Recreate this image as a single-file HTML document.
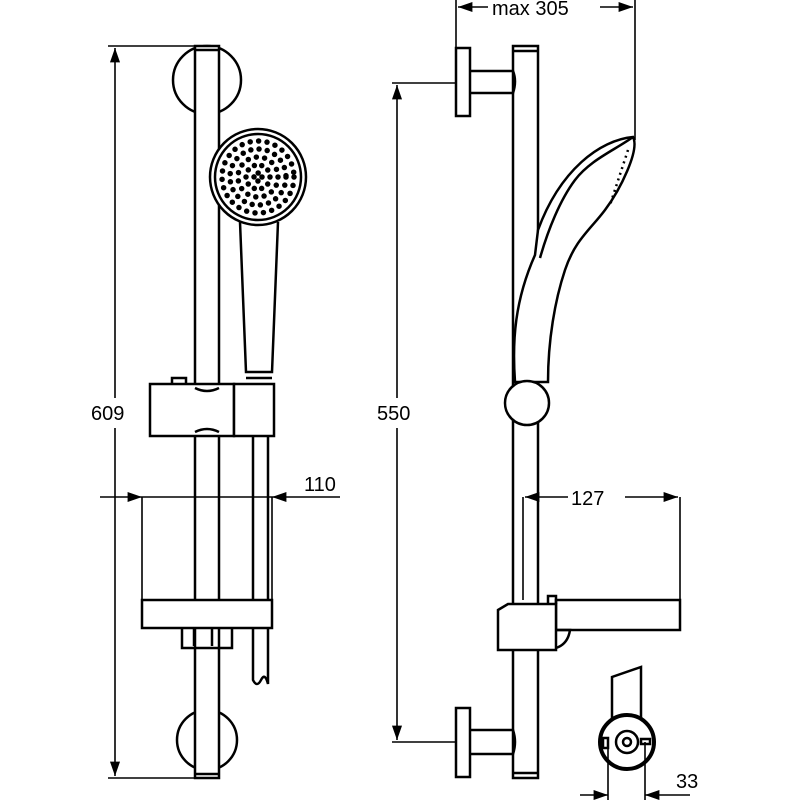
<!DOCTYPE html>
<html><head><style>body{margin:0;background:#fff}svg{display:block}text{font-family:"Liberation Sans",sans-serif;font-size:20px;fill:#000}</style></head><body>
<svg width="800" height="800" viewBox="0 0 800 800" xmlns="http://www.w3.org/2000/svg">
<defs><marker id="a" viewBox="0 0 10 10" refX="10" refY="5" markerWidth="9" markerHeight="9" orient="auto-start-reverse"><path d="M0,1.5 L10,5 L0,8.5z" fill="#000"/></marker></defs>
<g fill="none" stroke="#000" stroke-width="2.5">
<!-- LEFT VIEW -->
<circle cx="207" cy="80" r="34" fill="#fff"/>
<circle cx="207" cy="740" r="30" fill="#fff"/>
<rect x="195" y="46" width="24" height="732" fill="#fff"/>
<line x1="195" y1="50" x2="219" y2="50"/><line x1="195" y1="774" x2="219" y2="774"/>
<circle cx="258" cy="177" r="48" fill="#fff"/>
<circle cx="258" cy="177" r="43"/>
<g stroke-linecap="round" stroke-width="5.5">
<circle cx="258" cy="177" r="36" stroke-dasharray="0 8.5"/>
<circle cx="258" cy="177" r="28" stroke-dasharray="0 8.3"/>
<circle cx="258" cy="177" r="20" stroke-dasharray="0 8.4"/>
<circle cx="258" cy="177" r="12" stroke-dasharray="0 7.5"/>
<circle cx="258" cy="177" r="4" stroke-dasharray="0 6.3"/>
</g>
<path d="M240,222 L246,372 L272,372 L278,222"/>
<line x1="246" y1="378" x2="272" y2="378"/>
<rect x="150" y="384" width="84" height="52" fill="#fff"/>
<rect x="234" y="384" width="40" height="52" fill="#fff"/>
<path d="M172,384 v-6 h14 v6"/>
<path d="M195,388 q12,6 24,0 M195,432 q12,-6 24,0"/>
<path d="M253,436 V680 q4,8 8,0 q4,-8 7,4 V436"/>
<rect x="142" y="600" width="130" height="28" fill="#fff"/>
<path d="M182,628 v20 h50 v-20 M194,628 v18 M212,628 v18"/>
<g stroke-width="1.6">
<line x1="108" y1="46" x2="218" y2="46"/><line x1="108" y1="778" x2="205" y2="778"/>
<line x1="115" y1="48" x2="115" y2="398" marker-start="url(#a)"/>
<line x1="115" y1="428" x2="115" y2="776" marker-end="url(#a)"/>
<line x1="142" y1="497" x2="142" y2="600"/><line x1="272" y1="497" x2="272" y2="600"/>
<line x1="100" y1="497" x2="142" y2="497" marker-end="url(#a)"/>
<line x1="142" y1="497" x2="272" y2="497"/>
<line x1="340" y1="497" x2="272" y2="497" marker-end="url(#a)"/>
</g>
<!-- RIGHT VIEW -->
<rect x="513" y="46" width="25" height="732" fill="#fff"/>
<line x1="513" y1="51" x2="538" y2="51"/><line x1="513" y1="773" x2="538" y2="773"/>
<rect x="456" y="48" width="14" height="68" fill="#fff"/>
<path d="M470,71 H513 q4,10 0,22 H470"/>
<rect x="456" y="708" width="14" height="69" fill="#fff"/>
<path d="M470,730 H513 q4,12 0,24 H470"/>
<path d="M538,230 C560,170 600,140 633,137 C640,150 620,190 605,210 C590,230 575,240 565,270 C555,300 548,340 548,382 H515 C512,340 515,300 535,255 Z" fill="#fff"/>
<path d="M633,137 C615,150 590,160 575,180 C560,200 548,230 540,258"/>
<path d="M628,150 l-18,55" stroke-dasharray="2 4"/>
<circle cx="527" cy="403" r="22" fill="#fff"/>
<rect x="556" y="600" width="124" height="30" fill="#fff"/>
<path d="M498,610 l10,-6 h48 v46 h-58z" fill="#fff"/>
<path d="M548,604 v-8 h8 v8 M556,630 h14 q-2,14 -14,18"/>
<path d="M612,718 V677 l29,-10 V718"/>
<circle cx="627" cy="742" r="27" fill="#fff" stroke-width="4"/>
<circle cx="627" cy="742" r="11"/><circle cx="627" cy="742" r="4"/>
<rect x="603" y="738" width="5" height="10"/>
<rect x="641" y="739" width="9" height="5"/>
<g stroke-width="1.6">
<line x1="392" y1="83" x2="456" y2="83"/><line x1="392" y1="742" x2="456" y2="742"/>
<line x1="397" y1="85" x2="397" y2="398" marker-start="url(#a)"/>
<line x1="397" y1="428" x2="397" y2="740" marker-end="url(#a)"/>
<line x1="456" y1="0" x2="456" y2="48"/><line x1="635" y1="0" x2="635" y2="140"/>
<line x1="488" y1="7" x2="458" y2="7" marker-end="url(#a)"/>
<line x1="600" y1="7" x2="633" y2="7" marker-end="url(#a)"/>
<line x1="523" y1="497" x2="523" y2="600"/><line x1="680" y1="497" x2="680" y2="600"/>
<line x1="568" y1="497" x2="525" y2="497" marker-end="url(#a)"/>
<line x1="625" y1="497" x2="678" y2="497" marker-end="url(#a)"/>
<line x1="608" y1="742" x2="608" y2="800"/><line x1="645" y1="742" x2="645" y2="800"/>
<line x1="580" y1="795" x2="608" y2="795" marker-end="url(#a)"/>
<line x1="690" y1="795" x2="645" y2="795" marker-end="url(#a)"/>
</g>
</g>
<text x="91" y="420">609</text>
<text x="304" y="491">110</text>
<text x="377" y="420">550</text>
<text x="492" y="15">max 305</text>
<text x="571" y="505">127</text>
<text x="676" y="788">33</text>
</svg>
</body></html>
